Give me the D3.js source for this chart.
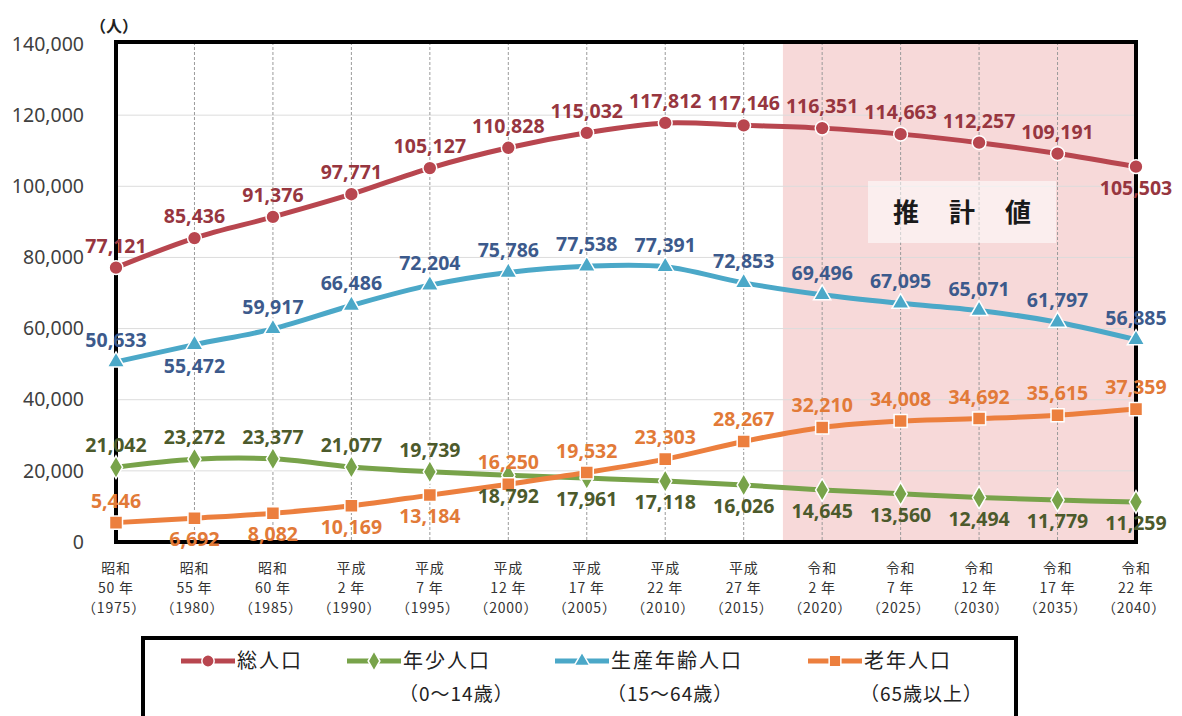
<!DOCTYPE html>
<html>
<head>
<meta charset="utf-8">
<script src="https://cdn.jsdelivr.net/npm/d3@7"></script>
<style>
	body { margin: 0; background: #fff; }
	svg { display: block; }
	text { font-family: "Noto Sans CJK JP", "Noto Sans", sans-serif; }
</style>
</head>
<body>
<script>
// data
const years = [1975, 1980, 1985, 1990, 1995, 2000, 2005, 2010, 2015, 2020, 2025, 2030, 2035, 2040];
const eras = ['昭和', '昭和', '昭和', '平成', '平成', '平成', '平成', '平成', '平成', '令和', '令和', '令和', '令和', '令和'];
const eraYears = ['50 年', '55 年', '60 年', '2 年', '7 年', '12 年', '17 年', '22 年', '27 年', '2 年', '7 年', '12 年', '17 年', '22 年'];

const total   = [77121, 85436, 91376, 97771, 105127, 110828, 115032, 117812, 117146, 116351, 114663, 112257, 109191, 105503];
const young   = [21042, 23272, 23377, 21077, 19739, 18792, 17961, 17118, 16026, 14645, 13560, 12494, 11779, 11259];
const working = [50633, 55472, 59917, 66486, 72204, 75786, 77538, 77391, 72853, 69496, 67095, 65071, 61797, 56885];
const elderly = [5446, 6692, 8082, 10169, 13184, 16250, 19532, 23303, 28267, 32210, 34008, 34692, 35615, 37359];

// label side: 1 = above the point, -1 = below
const totalSide   = [1, 1, 1, 1, 1, 1, 1, 1, 1, 1, 1, 1, 1, -1];
const youngSide   = [1, 1, 1, 1, 1, -1, -1, -1, -1, -1, -1, -1, -1, -1];
const workingSide = [1, -1, 1, 1, 1, 1, 1, 1, 1, 1, 1, 1, 1, 1];
const elderlySide = [1, -1, -1, -1, -1, 1, 1, 1, 1, 1, 1, 1, 1, 1];

const yTicks = [0, 20000, 40000, 60000, 80000, 100000, 120000, 140000];
const firstEstimate = 2020;

const legendNames = ['総人口', '年少人口', '生産年齢人口', '老年人口'];
const legendSubs  = ['', '（0～14歳）', '（15～64歳）', '（65歳以上）'];

document.addEventListener('DOMContentLoaded', () => {
	const width = 1182, height = 716;
	const left = 116, right = 1136, top = 42, bottom = 542;

	const svg = d3.select('body').append('svg')
		.attr('width', width)
		.attr('height', height);

	const x = d3.scalePoint().domain(years).range([left, right]);
	const y = d3.scaleLinear().domain([0, 140000]).range([bottom, top + 2]);
	const step = x.step();

	const series = [
		{ name: legendNames[0], values: total,   side: totalSide,   line: '#b8464f', label: '#97363f', shape: d3.symbolCircle,   size: 150 },
		{ name: legendNames[1], values: young,   side: youngSide,   line: '#78a34a', label: '#4c5a2c', shape: d3.symbolDiamond,  size: 150 },
		{ name: legendNames[2], values: working, side: workingSide, line: '#4ba8c8', label: '#3c5a8c', shape: d3.symbolTriangle, size: 130 },
		{ name: legendNames[3], values: elderly, side: elderlySide, line: '#ec7f3e', label: '#e27a38', shape: d3.symbolSquare,   size: 170 }
	];

	// estimate shading
	const shadeX = x(firstEstimate) - step / 2;
	svg.append('rect')
		.attr('x', shadeX)
		.attr('y', top)
		.attr('width', right + 2 - shadeX)
		.attr('height', bottom - top)
		.style('fill', '#f7d9d9');

	// grid
	svg.append('g')
		.selectAll('line')
		.data(yTicks.slice(1, -1))
		.enter().append('line')
		.attr('x1', left).attr('x2', right)
		.attr('y1', d => y(d)).attr('y2', d => y(d))
		.style('stroke', '#dcdcdc')
		.style('stroke-width', 1);

	svg.append('g')
		.selectAll('line')
		.data(years.slice(1, -1))
		.enter().append('line')
		.attr('x1', d => x(d)).attr('x2', d => x(d))
		.attr('y1', top).attr('y2', bottom)
		.style('stroke', '#9a9a9a')
		.style('stroke-width', 1)
		.style('stroke-dasharray', '3,2');

	// estimate caption
	svg.append('rect')
		.attr('x', 868).attr('y', 181)
		.attr('width', 188).attr('height', 62)
		.style('fill', '#fff').style('opacity', 0.55);
	svg.append('text')
		.attr('x', 962 + 15).attr('y', 222)
		.attr('text-anchor', 'middle')
		.style('font-size', '26px')
		.style('font-weight', 'bold')
		.style('letter-spacing', '30px')
		.style('fill', '#1a1a1a')
		.text('推計値');

	// frame
	svg.append('rect')
		.attr('x', left).attr('y', top)
		.attr('width', right - left).attr('height', bottom - top)
		.style('fill', 'none')
		.style('stroke', '#000')
		.style('stroke-width', 4);

	// y axis
	const yAxis = svg.append('g')
		.attr('transform', `translate(${left},0)`)
		.call(d3.axisLeft(y).tickValues(yTicks).tickFormat(d3.format(',')).tickSize(0).tickPadding(32));
	yAxis.select('.domain').remove();
	yAxis.selectAll('text')
		.style('font-family', '"Noto Sans", sans-serif')
		.style('font-size', '19.5px')
		.style('fill', '#404040');

	svg.append('text')
		.attr('x', 90).attr('y', 32)
		.style('font-size', '16px')
		.style('font-weight', 'bold')
		.style('fill', '#222')
		.text('（人）');

	// x labels, one text per row
	const rows = [
		{ y: 573, dx: 0,  get: (d, i) => eras[i] },
		{ y: 593, dx: 0,  get: (d, i) => eraYears[i] },
		{ y: 613, dx: -2, get: d => '（' + d + '）' }
	];
	for (let r of rows) {
		svg.append('g')
			.selectAll('text')
			.data(years)
			.enter().append('text')
			.attr('x', d => x(d) + r.dx)
			.attr('y', r.y)
			.attr('text-anchor', 'middle')
			.style('font-size', '14px')
			.style('letter-spacing', '0.8px')
			.style('fill', '#333')
			.text(r.get);
	}

	// lines and markers
	const line = d3.line()
		.x((d, i) => x(years[i]))
		.y(d => y(d))
		.curve(d3.curveCatmullRom.alpha(0.5));

	for (let s of series) {
		svg.append('path')
			.datum(s.values)
			.attr('d', line)
			.style('fill', 'none')
			.style('stroke', s.line)
			.style('stroke-width', 5);
	}

	for (let s of series) {
		svg.append('g')
			.selectAll('path')
			.data(s.values)
			.enter().append('path')
			.attr('transform', (d, i) => `translate(${x(years[i])},${y(d)})`)
			.attr('d', d3.symbol().type(s.shape).size(s.size))
			.style('fill', s.line)
			.style('stroke', '#fff')
			.style('stroke-width', 1.5);
	}

	const fmt = d3.format(',');
	for (let s of series) {
		svg.append('g')
			.selectAll('text')
			.data(s.values)
			.enter().append('text')
			.attr('x', (d, i) => x(years[i]))
			.attr('y', (d, i) => y(d) + (s.side[i] > 0 ? -15 : 28))
			.attr('text-anchor', 'middle')
			.style('font-family', '"Noto Sans", sans-serif')
			.style('font-size', '19.5px')
			.style('font-weight', 'bold')
			.style('fill', s.label)
			.text(d => fmt(d));
	}

	// legend
	svg.append('rect')
		.attr('x', 143).attr('y', 638)
		.attr('width', 873).attr('height', 100)
		.style('fill', '#fff')
		.style('stroke', '#000')
		.style('stroke-width', 4);

	const legendX = [181, 347, 555, 808];
	series.forEach((s, i) => {
		const g = svg.append('g').attr('transform', `translate(${legendX[i]},661)`);
		g.append('line')
			.attr('x1', 0).attr('x2', 54)
			.style('stroke', s.line)
			.style('stroke-width', 5);
		g.append('path')
			.attr('transform', 'translate(27,0)')
			.attr('d', d3.symbol().type(s.shape).size(s.size * 0.8))
			.style('fill', s.line)
			.style('stroke', '#fff')
			.style('stroke-width', 1.5);
		g.append('text')
			.attr('x', 56).attr('y', 7)
			.style('font-size', '20px')
			.style('letter-spacing', '2px')
			.style('fill', '#222')
			.text(s.name);
		g.append('text')
			.attr('x', 52).attr('y', 40)
			.style('font-size', '19px')
			.style('letter-spacing', '1px')
			.style('fill', '#222')
			.text(legendSubs[i]);
	});
});
</script>
</body>
</html>
